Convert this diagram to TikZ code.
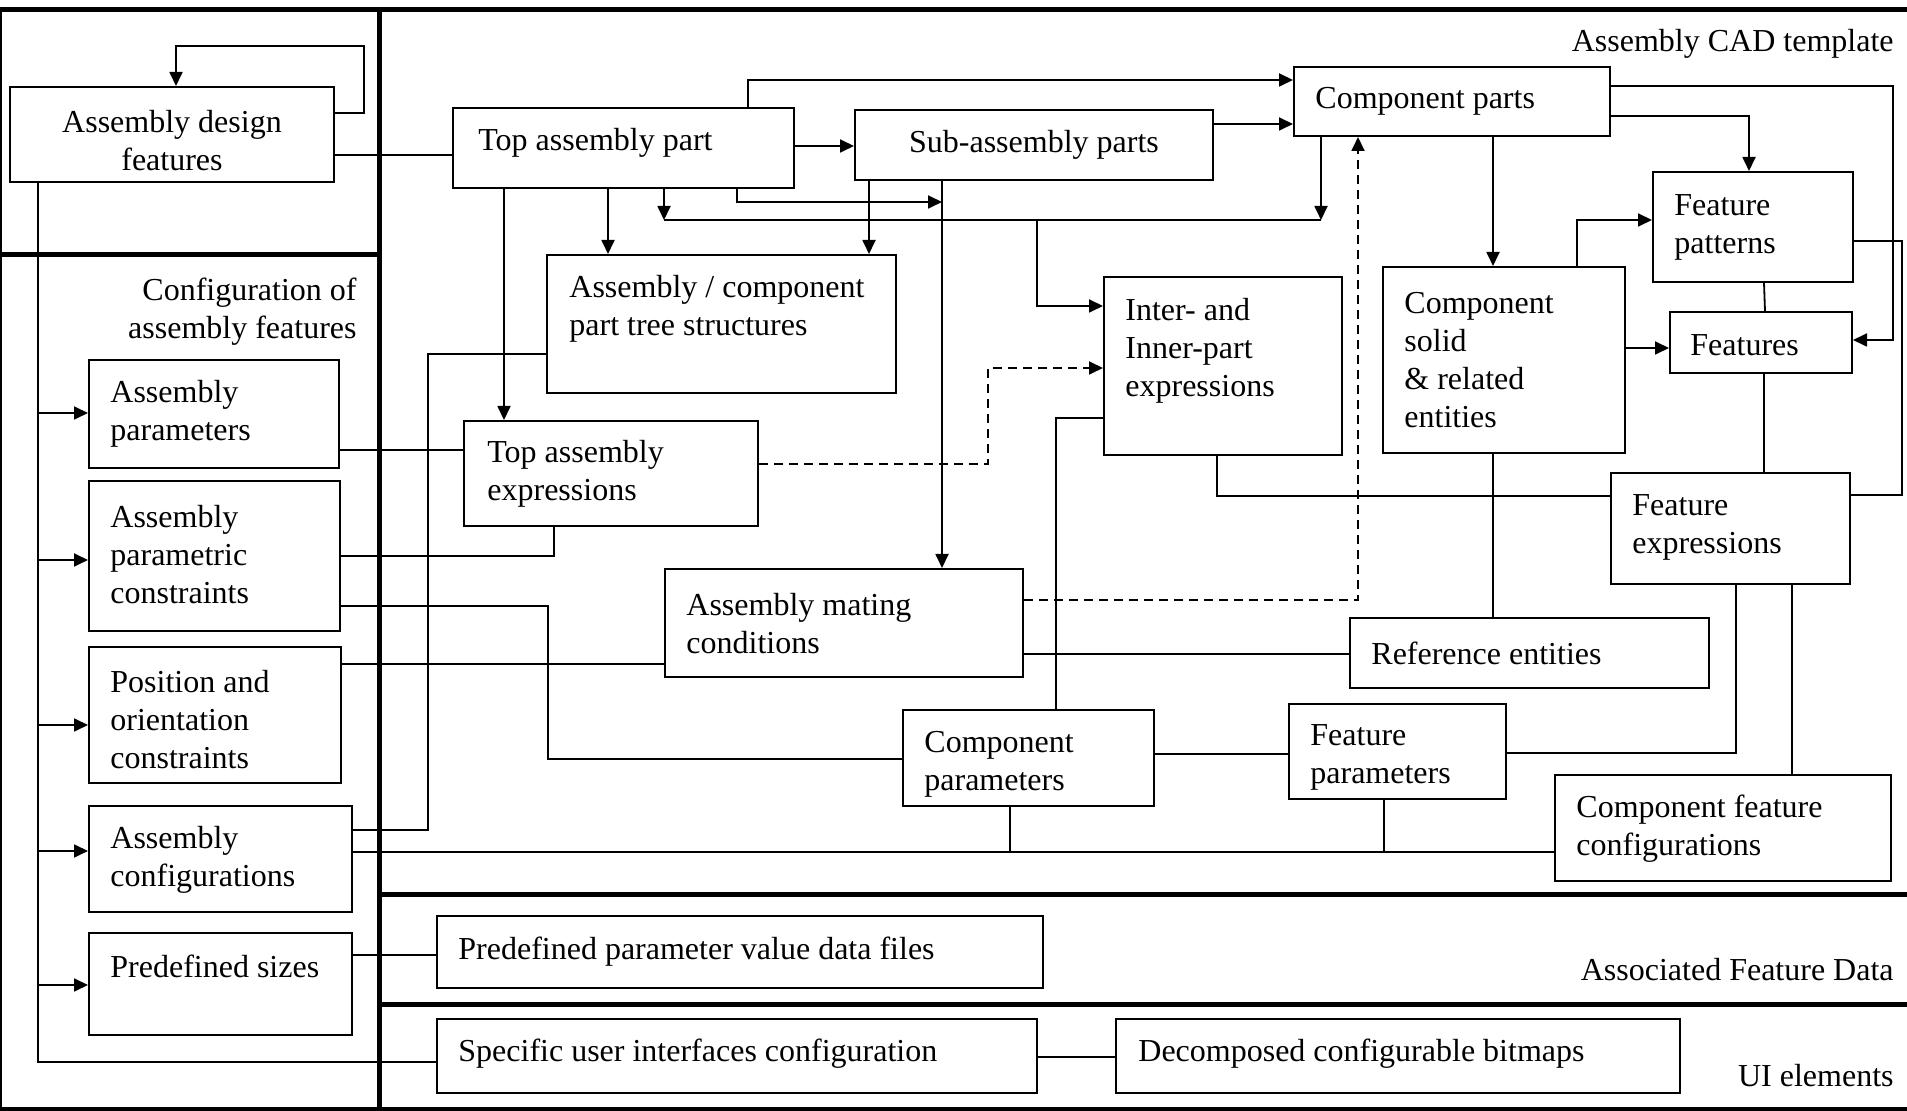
\documentclass[tikz,border=0pt]{standalone}
\usepackage{fontspec}
\setmainfont{Liberation Serif}
\usetikzlibrary{arrows.meta,fit}
\begin{document}
\begin{tikzpicture}[x=0.5pt,y=-0.5pt,
  box/.style={draw,line width=1pt,inner sep=0pt,rectangle},
  txt/.style={font=\fontsize{16}{19}\selectfont,align=left,inner sep=0pt,anchor=west,yshift=-1.6pt},
  lbl/.style={font=\fontsize{16}{19}\selectfont,align=right,inner sep=0pt,anchor=east,yshift=-1.8pt},
  conn/.style={line width=0.9pt},
  arr/.style={conn,-{Triangle[length=7pt,width=6.5pt]}},
  dsh/.style={arr,dash pattern=on 4.5pt off 3pt},
  frame/.style={line width=2.5pt}]
\useasboundingbox (0,0) rectangle (1907,1111);
% frame
\draw[frame] (0,10) -- (1907,10);
\draw[frame] (379,10) -- (379,1111);
\draw[frame] (0,255) -- (379,255);
\draw[frame] (379,895) -- (1907,895);
\draw[frame] (379,1004) -- (1907,1004);
\draw[frame] (0,1109) -- (1907,1109);
\draw[line width=1pt] (1,10) -- (1,1109);
% section labels
\node[lbl] (l1) at (1894,40) {Assembly CAD template};
\node[lbl] (l2) at (357,308) {Configuration of\\assembly features};
\node[lbl] (l3) at (1894,966) {Associated Feature Data};
\node[lbl] (l4) at (1894,1072) {UI elements};
% boxes
\node[box,fit={(10,87) (334,182)}] (adf) {};
\node[box,fit={(453,108) (794,188)}] (tap) {};
\node[box,fit={(855,110) (1213,180)}] (sap) {};
\node[box,fit={(1294,67) (1610,136)}] (cp) {};
\node[box,fit={(547,255) (896,393)}] (ats) {};
\node[box,fit={(464,421) (758,526)}] (tae) {};
\node[box,fit={(1104,277) (1342,455)}] (iie) {};
\node[box,fit={(1653,172) (1853,282)}] (fp) {};
\node[box,fit={(1383,267) (1625,453)}] (cs) {};
\node[box,fit={(1670,312) (1852,373)}] (ft) {};
\node[box,fit={(1611,473) (1850,584)}] (fe) {};
\node[box,fit={(665,569) (1023,677)}] (amc) {};
\node[box,fit={(1350,618) (1709,688)}] (re) {};
\node[box,fit={(903,710) (1154,806)}] (cpar) {};
\node[box,fit={(1289,704) (1506,799)}] (fpar) {};
\node[box,fit={(1555,775) (1891,881)}] (cfc) {};
\node[box,fit={(89,360) (339,468)}] (ap) {};
\node[box,fit={(89,481) (340,631)}] (apc) {};
\node[box,fit={(89,647) (341,783)}] (poc) {};
\node[box,fit={(89,806) (352,912)}] (ac) {};
\node[box,fit={(89,933) (352,1035)}] (ps) {};
\node[box,fit={(437,916) (1043,988)}] (ppv) {};
\node[box,fit={(437,1019) (1037,1093)}] (sui) {};
\node[box,fit={(1116,1019) (1680,1093)}] (dcb) {};
% texts
\node[txt,align=center,anchor=center] (adf-t) at (172,137) {Assembly design\\features};
\node[txt] (tap-t) at (478,140) {Top assembly part};
\node[txt,anchor=center] (sap-t) at (1034,142) {Sub-assembly parts};
\node[txt] (cp-t) at (1315,98) {Component parts};
\node[txt] (ats-t) at (569,306) {Assembly / component\\part tree structures};
\node[txt] (tae-t) at (487,471) {Top assembly\\expressions};
\node[txt] (iie-t) at (1125,348) {Inter- and\\Inner-part\\expressions};
\node[txt] (fp-t) at (1674,224) {Feature\\patterns};
\node[txt] (cs-t) at (1404,357) {Component\\solid\\\& related\\entities};
\node[txt] (ft-t) at (1690,342) {Features};
\node[txt] (fe-t) at (1632,524) {Feature\\expressions};
\node[txt] (amc-t) at (686,620) {Assembly mating\\conditions};
\node[txt] (re-t) at (1371,650) {Reference entities};
\node[txt] (cpar-t) at (924,761) {Component\\parameters};
\node[txt] (fpar-t) at (1310,754) {Feature\\parameters};
\node[txt] (cfc-t) at (1576,825) {Component feature\\configurations};
\node[txt] (ap-t) at (110,411) {Assembly\\parameters};
\node[txt] (apc-t) at (110,551) {Assembly\\parametric\\constraints};
\node[txt] (poc-t) at (110,716) {Position and\\orientation\\constraints};
\node[txt] (ac-t) at (110,857) {Assembly\\configurations};
\node[txt] (ps-t) at (110,963) {Predefined sizes};
\node[txt] (ppv-t) at (458,948) {Predefined parameter value data files};
\node[txt] (sui-t) at (458,1050) {Specific user interfaces configuration};
\node[txt] (dcb-t) at (1138,1050) {Decomposed configurable bitmaps};
% helper coordinates
\coordinate (busL) at (664,220);
\coordinate (busR) at (1321,220);
\coordinate (busM) at (1037,220);
\coordinate (j1) at (942,202);
\coordinate (sp) at (38,182);
% connectors
\draw[arr] (adf.east |- 0,113) -- (364,113) -- (364,46) -| (adf.north -| 176,0);
\draw[conn] (adf.east |- 0,155) -- (tap.west |- 0,155);
\draw[arr] (tap.east |- 0,146) -- (sap.west |- 0,146);
\draw[arr] (tap.north -| 748,0) |- (cp.west |- 0,80);
\draw[arr] (sap.east |- 0,124) -- (cp.west |- 0,124);
\draw[arr] (tap.south -| busL) -- (busL);
\draw[arr] (cp.south -| busR) -- (busR);
\draw[conn] (busL) -- (busR);
\draw[arr] (busM) |- (iie.west |- 0,306);
\draw[arr] (tap.south -| 737,0) |- (j1);
\draw[arr] (sap.south -| 942,0) -- (amc.north -| 942,0);
\draw[arr] (tap.south -| 608,0) -- (ats.north -| 608,0);
\draw[arr] (sap.south -| 869,0) -- (ats.north -| 869,0);
\draw[arr] (tap.south -| 504,0) -- (tae.north -| 504,0);
\draw[conn] (ats.west |- 0,354) -| (428,600) |- (ac.east |- 0,830);
\draw[conn] (ap.east |- 0,450) -- (tae.west |- 0,450);
\draw[conn] (apc.east |- 0,556) -| (tae.south -| 554,0);
\draw[conn] (apc.east |- 0,606) -- (548,606) |- (cpar.west |- 0,759);
\draw[conn] (poc.east |- 0,664) -- (amc.west |- 0,664);
\draw[dsh] (tae.east |- 0,464) -- (988,464) |- (iie.west |- 0,368);
\draw[dsh] (amc.east |- 0,600) -| (cp.south -| 1358,0);
\draw[conn] (amc.east |- 0,654) -- (re.west |- 0,654);
\draw[conn] (cpar.north -| 1056,0) |- (iie.west |- 0,418);
\draw[conn] (iie.south -| 1217,0) |- (fe.west |- 0,496);
\draw[conn] (cs.south -| 1493,0) -- (re.north -| 1493,0);
\draw[arr] (cp.south -| 1493,0) -- (cs.north -| 1493,0);
\draw[arr] (cp.east |- 0,86) -| (1893,200) |- (ft.east |- 0,340);
\draw[arr] (cp.east |- 0,116) -| (fp.north -| 1749,0);
\draw[arr] (cs.north -| 1577,0) |- (fp.west |- 0,220);
\draw[arr] (cs.east |- 0,348) -- (ft.west |- 0,348);
\draw[conn] (fp.south -| 1764,0) -- (ft.north -| 1765,0);
\draw[conn] (fp.east |- 0,241) -| (1902,400) |- (fe.east |- 0,495);
\draw[conn] (ft.south -| 1764,0) -- (fe.north -| 1764,0);
\draw[conn] (fe.south -| 1736,0) |- (fpar.east |- 0,753);
\draw[conn] (fe.south -| 1792,0) -- (cfc.north -| 1792,0);
\draw[conn] (cpar.east |- 0,754) -- (fpar.west |- 0,754);
\draw[conn] (ac.east |- 0,852) -- (cfc.west |- 0,852);
\draw[conn] (cpar.south -| 1010,0) -- (1010,852);
\draw[conn] (fpar.south -| 1384,0) -- (1384,852);
\draw[conn] (sp) |- (sui.west |- 0,1062);
\draw[arr] (sp |- 0,413) -- (ap.west |- 0,413);
\draw[arr] (sp |- 0,560) -- (apc.west |- 0,560);
\draw[arr] (sp |- 0,725) -- (poc.west |- 0,725);
\draw[arr] (sp |- 0,851) -- (ac.west |- 0,851);
\draw[arr] (sp |- 0,985) -- (ps.west |- 0,985);
\draw[conn] (ps.east |- 0,955) -- (ppv.west |- 0,955);
\draw[conn] (sui.east |- 0,1057) -- (dcb.west |- 0,1057);
\end{tikzpicture}
\end{document}
